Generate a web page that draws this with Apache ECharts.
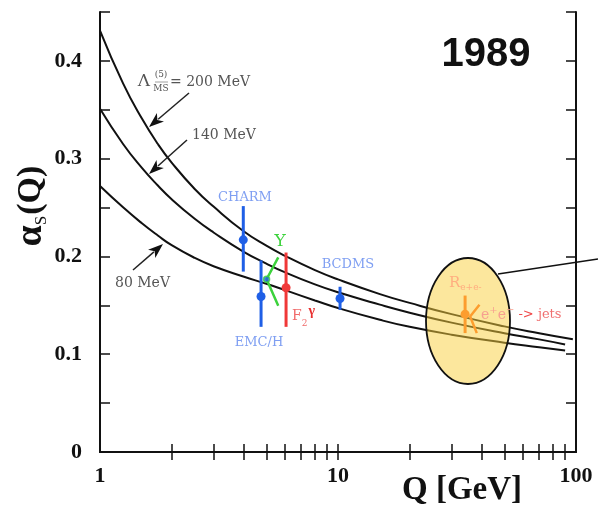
<!DOCTYPE html>
<html><head><meta charset="utf-8">
<script src="https://cdn.jsdelivr.net/npm/echarts@6/dist/echarts.min.js"></script>
<style>html,body{margin:0;padding:0;background:#fff}#c{width:598px;height:512px}</style>
</head><body><div id="c"></div>
<script>
// ---- Data ----
const Q200 = [1, 1.25, 1.5, 1.75, 2, 2.5, 3, 4, 5, 6, 8, 10, 15, 20, 30, 50, 70, 97];
const alpha200 = [0.431, 0.377, 0.341, 0.315, 0.296, 0.269, 0.251, 0.226, 0.211, 0.2005, 0.186, 0.1765, 0.1615, 0.1525, 0.141, 0.1285, 0.1215, 0.1153];
const Q140 = [1, 1.25, 1.5, 1.75, 2, 2.5, 3, 4, 5, 6, 8, 10, 15, 20, 30, 50, 70, 90];
const alpha140 = [0.351, 0.315, 0.2905, 0.2725, 0.2585, 0.2385, 0.2245, 0.205, 0.1927, 0.1837, 0.1714, 0.1633, 0.1507, 0.1425, 0.1323, 0.1214, 0.1152, 0.110];
const Q80 = [1, 1.25, 1.5, 1.75, 2, 2.5, 3, 4, 5, 6, 8, 10, 15, 20, 30, 50, 70, 90];
const alpha80 = [0.272, 0.2502, 0.2339, 0.2214, 0.2115, 0.1985, 0.190, 0.1795, 0.172, 0.1655, 0.155, 0.1472, 0.1352, 0.128, 0.120, 0.1118, 0.1072, 0.1038];

const expNames = ['CHARM', 'EMC/H', 'F2γ', 'BCDMS', 'Re+e-'];
const expQ     = [4.0, 4.75, 6.05, 10.2, 34.2];
const expAlpha = [0.217, 0.159, 0.168, 0.157, 0.141];
const expLo    = [0.1845, 0.128, 0.128, 0.1454, 0.1216];
const expHi    = [0.2515, 0.196, 0.204, 0.169, 0.160];

const upsilonQ = [5.61, 5.01, 5.61];
const upsilonAlpha = [0.199, 0.1767, 0.1495];
const jetsQ = [39.3, 35.9, 38.3];
const jetsAlpha = [0.1505, 0.1385, 0.1216];

const xTicks = [2,3,4,5,6,7,8,9,10,20,30,40,50,60,70,80,90];
const xLabels = [1, 10, 100];
const yTickStep = 0.05;

// ---- styles ----
const expColors = ['#1f5fe6', '#1f5fe6', '#f03838', '#1f5fe6', '#ff6a20'];
const serif = "'DejaVu Serif', serif";
const bserif = "'Liberation Serif', 'Times New Roman', serif";

const chart = echarts.init(document.getElementById('c'), null, {renderer: 'canvas'});

function zip(a, b) { return a.map((v, i) => [v, b[i]]); }

function errSeries(i) {
  return {
    type: 'custom', xAxisIndex: 0, yAxisIndex: 0, z: 5,
    data: [[expQ[i], expAlpha[i], expLo[i], expHi[i]]],
    renderItem: function (params, api) {
      const x = api.value(0), v = api.value(1), lo = api.value(2), hi = api.value(3);
      const p = api.coord([x, v]), pl = api.coord([x, lo]), ph = api.coord([x, hi]);
      return {type: 'group', children: [
        {type: 'line', shape: {x1: pl[0], y1: pl[1], x2: ph[0], y2: ph[1]}, style: {stroke: expColors[i], lineWidth: 3}},
        {type: 'circle', shape: {cx: p[0], cy: p[1], r: 4.5}, style: {fill: expColors[i]}}
      ]};
    }
  };
}

function arrow(sx, sy, tx, ty) {
  const dx = tx - sx, dy = ty - sy, L = Math.hypot(dx, dy), ux = dx / L, uy = dy / L;
  const hl = 15, hw = 5.5;
  const bx = tx - ux * hl, by = ty - uy * hl;
  return [
    {type: 'line', z: 50, shape: {x1: sx, y1: sy, x2: bx + ux * 3, y2: by + uy * 3}, style: {stroke: '#222', lineWidth: 1.5}},
    {type: 'polygon', z: 50, shape: {points: [[tx, ty], [bx - uy * hw, by + ux * hw], [bx + ux * 4, by + uy * 4], [bx + uy * hw, by - ux * hw]]}, style: {fill: '#111'}}
  ];
}

function txt(x, y, text, opts) {
  return Object.assign({type: 'text', x: x, y: y, z: 60,
    style: Object.assign({text: text, fontFamily: serif, fontSize: 13, fill: '#555', align: 'center', verticalAlign: 'middle'}, opts || {})});
}

const curveStyle = {color: '#111', width: 2};

const option = {
  backgroundColor: '#fff',
  animation: false,
  grid: {left: 100, right: 22, top: 12, bottom: 60, outerBoundsMode: 'none'},
  xAxis: [
    {type: 'log', logBase: 10, min: 1, max: 100, position: 'bottom',
     axisLine: {lineStyle: {color: '#111', width: 2}},
     axisTick: {inside: true, length: 8, customValues: xTicks, lineStyle: {color: '#111', width: 1.5}},
     axisLabel: {customValues: xLabels, margin: 13, color: '#111', fontFamily: bserif, fontWeight: 'bold', fontSize: 22,
                 formatter: v => String(Math.round(v))},
     splitLine: {show: false}, minorTick: {show: false}},
    {type: 'log', logBase: 10, min: 1, max: 100, position: 'top',
     axisLine: {lineStyle: {color: '#111', width: 2}},
     axisTick: {inside: true, length: 8, customValues: xTicks, lineStyle: {color: '#111', width: 1.5}},
     axisLabel: {show: false}, splitLine: {show: false}}
  ],
  yAxis: [
    {type: 'value', min: 0, max: 0.45, interval: yTickStep, position: 'left',
     axisLine: {show: true, lineStyle: {color: '#111', width: 2}},
     axisTick: {show: true, inside: true, length: 10, lineStyle: {color: '#111', width: 1.5}},
     axisLabel: {margin: 18, color: '#111', fontFamily: bserif, fontWeight: 'bold', fontSize: 22,
                 formatter: function (v) {
                   const k = Math.round(v * 100);
                   if (k % 10 !== 0 || k > 40) return '';
                   return k === 0 ? '0' : (k / 100).toFixed(1);
                 }},
     splitLine: {show: false}},
    {type: 'value', min: 0, max: 0.45, interval: yTickStep, position: 'right',
     axisLine: {show: true, lineStyle: {color: '#111', width: 2}},
     axisTick: {show: true, inside: true, length: 10, lineStyle: {color: '#111', width: 1.5}},
     axisLabel: {show: false}, splitLine: {show: false}}
  ],
  series: [
    {type: 'line', name: '200 MeV', data: zip(Q200, alpha200), smooth: 0.5, showSymbol: false, lineStyle: curveStyle, z: 3},
    {type: 'line', name: '140 MeV', data: zip(Q140, alpha140), smooth: 0.5, showSymbol: false, lineStyle: curveStyle, z: 3},
    {type: 'line', name: '80 MeV', data: zip(Q80, alpha80), smooth: 0.5, showSymbol: false, lineStyle: curveStyle, z: 3},
    errSeries(0), errSeries(1), errSeries(2), errSeries(3), errSeries(4),
    {type: 'line', name: 'Upsilon', data: zip(upsilonQ, upsilonAlpha), showSymbol: false, lineStyle: {color: '#3cd23c', width: 2.5}, z: 6},
    {type: 'scatter', name: 'Upsilon pt', data: [[upsilonQ[1], upsilonAlpha[1]]], symbolSize: 6,
     itemStyle: {color: '#1f5fe6', borderColor: '#3cd23c', borderWidth: 1.5}, z: 7},
    {type: 'line', name: 'jets', data: zip(jetsQ, jetsAlpha), showSymbol: false, lineStyle: {color: '#ff6a20', width: 2.5}, z: 6}
  ],
  graphic: [
    // highlight ellipse
    {type: 'ellipse', z: 40, shape: {cx: 468, cy: 321, rx: 42, ry: 63},
     style: {fill: 'rgba(250,208,60,0.5)', stroke: '#111', lineWidth: 1.8}},
    {type: 'line', z: 41, shape: {x1: 498, y1: 274, x2: 598, y2: 259}, style: {stroke: '#111', lineWidth: 1.5}},
    // year
    txt(486, 55, '1989', {fontFamily: "'Liberation Sans', Arial, sans-serif", fontWeight: 'bold', fontSize: 40, fill: '#111'}),
    // axis titles
    txt(462, 490, 'Q [GeV]', {fontFamily: bserif, fontWeight: 'bold', fontSize: 33, fill: '#111'}),
    {type: 'text', x: 31, y: 206, rotation: Math.PI / 2, z: 60,
     style: {text: '{a|α}{s|S}{q|(Q)}', align: 'center', verticalAlign: 'middle', fill: '#111',
             rich: {a: {fontFamily: bserif, fontWeight: 'bold', fontSize: 38, fill: '#111'},
                    s: {fontFamily: bserif, fontSize: 17, fill: '#111', verticalAlign: 'bottom', padding: [14, 1, 0, 0]},
                    q: {fontFamily: bserif, fontWeight: 'bold', fontSize: 34, fill: '#111'}}}},
    // curve labels
    txt(144, 82, 'Λ', {fontSize: 17}),
    txt(161, 75, '(5)', {fontSize: 9}),
    {type: 'line', z: 60, shape: {x1: 155, y1: 82, x2: 168, y2: 82}, style: {stroke: '#888', lineWidth: 0.8}},
    txt(161, 88.5, 'MS', {fontSize: 9}),
    txt(170, 82, '= 200 MeV', {align: 'left', fontSize: 14}),
    txt(192, 135, '140 MeV', {align: 'left', fontSize: 14}),
    txt(115, 283, '80 MeV', {align: 'left', fontSize: 14}),
    ...arrow(189, 93, 149, 127),
    ...arrow(187, 140, 149, 174),
    ...arrow(133, 270, 163, 244),
    // experiment labels
    txt(245, 198, 'CHARM', {fill: '#7f9ff2', fontSize: 13}),
    txt(348, 265, 'BCDMS', {fill: '#7f9ff2', fontSize: 13}),
    txt(259, 343, 'EMC/H', {fill: '#7f9ff2', fontSize: 13}),
    txt(280, 242, 'Υ', {fill: '#3cd23c', fontSize: 17}),
    {type: 'text', x: 292, y: 316, z: 60,
     style: {text: '{f|F}{s|2}{g|γ}', align: 'left', verticalAlign: 'middle',
             rich: {f: {fontFamily: serif, fontSize: 14, fill: '#f06a6a'},
                    s: {fontFamily: serif, fontSize: 9, fill: '#f06a6a', verticalAlign: 'bottom', padding: [10, 0, 0, 0]},
                    g: {fontFamily: bserif, fontWeight: 'bold', fontSize: 14, fill: '#e83030', verticalAlign: 'top', padding: [0, 0, 10, 1]}}}},
    {type: 'text', x: 449, y: 283, z: 60,
     style: {text: '{r|R}{s|e+e-}', align: 'left', verticalAlign: 'middle',
             rich: {r: {fontFamily: serif, fontSize: 15, fill: '#ffae80'},
                    s: {fontFamily: serif, fontSize: 9, fill: '#ffae80', verticalAlign: 'bottom', padding: [10, 0, 0, 0]}}}},
    {type: 'text', x: 481, y: 315, z: 60,
     style: {text: '{e|e}{p|+}{e|e}{p|−}{a| -> }{j|jets}', align: 'left', verticalAlign: 'middle',
             rich: {e: {fontFamily: serif, fontSize: 14, fill: '#f7a090'},
                    p: {fontFamily: serif, fontSize: 10, fill: '#f7a090', verticalAlign: 'top', padding: [0, 0, 9, 0]},
                    a: {fontFamily: serif, fontSize: 13, fill: '#f04a4a'},
                    j: {fontFamily: serif, fontSize: 13, fill: '#f07070'}}}}
  ]
};
chart.setOption(option);
</script>
</body></html>
